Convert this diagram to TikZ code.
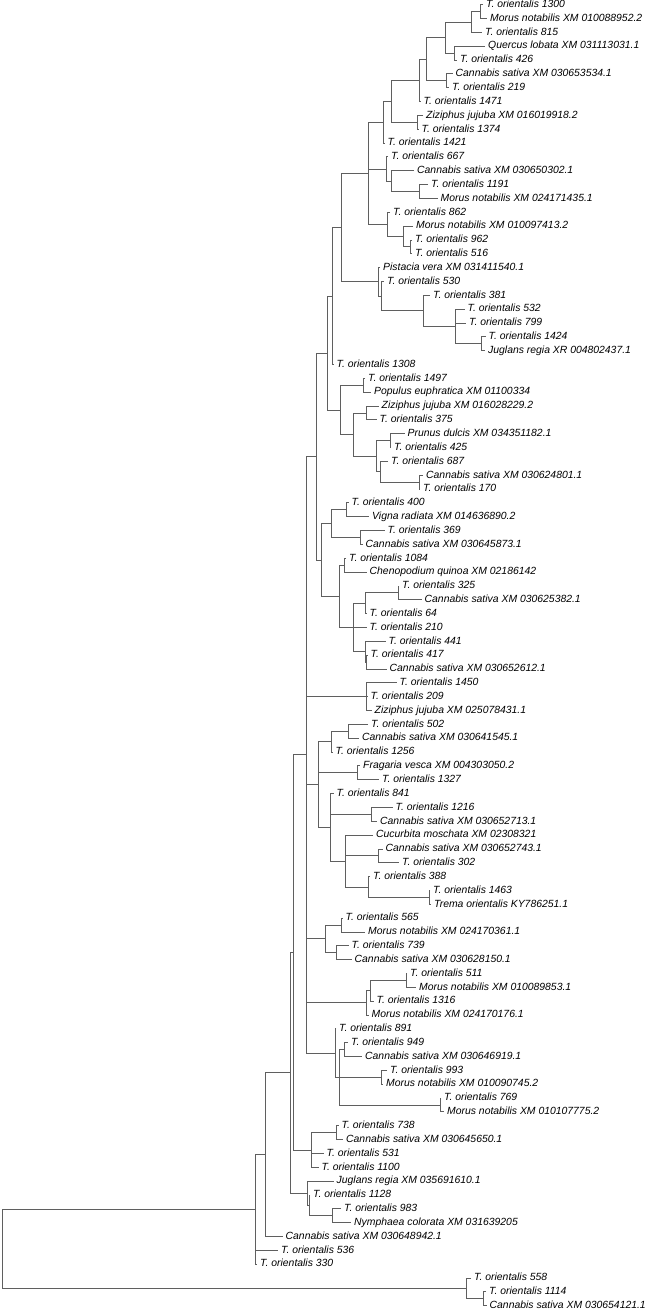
\documentclass[tikz,border=0pt]{standalone}
\usepackage{fontspec}
\setmainfont{Liberation Sans}
\usetikzlibrary{calc}
\definecolor{brc}{RGB}{95,95,95}
\tikzset{
  brl/.style={draw=brc, line width=0.9pt},
  lbl/.style={anchor=west, inner xsep=3pt, inner ysep=0pt, text height=7.5pt, text depth=2pt,
    font=\fontsize{10.4}{12}\selectfont\itshape, text=black}
}
\newcommand\lf[4]{\coordinate (#1) at (#2,{4.7+13.84*(#3-1)}); \node[lbl] (t#1) at (#1) {#4};}
\newcommand\nd[4]{%
  \path let \p1=($(#3)!.5!(#4)$) in (#2pt,\y1) coordinate (#1);
  \draw[brl] (#3) -- (#1 |- #3) -- (#1 |- #4) -- (#4);}
\newcommand\ndm[5]{%
  \nd{#1}{#2}{#3}{#4}%
  \foreach \cc in {#5} {\draw[brl] (#1 |- \cc) -- (\cc);}}
\begin{document}
\begin{tikzpicture}[x=1pt,y=-1pt]
\useasboundingbox (0,0) rectangle (648,1311);
\lf{l1}{483}{1}{T. orientalis 1300}
\lf{l2}{487}{2}{Morus notabilis XM 010088952.2}
\lf{l3}{482}{3}{T. orientalis 815}
\lf{l4}{485}{4}{Quercus lobata XM 031113031.1}
\lf{l5}{457}{5}{T. orientalis 426}
\lf{l6}{452.5}{6}{Cannabis sativa XM 030653534.1}
\lf{l7}{449}{7}{T. orientalis 219}
\lf{l8}{420.5}{8}{T. orientalis 1471}
\lf{l9}{423}{9}{Ziziphus jujuba XM 016019918.2}
\lf{l10}{418.5}{10}{T. orientalis 1374}
\lf{l11}{384.5}{11}{T. orientalis 1421}
\lf{l12}{388}{12}{T. orientalis 667}
\lf{l13}{414}{13}{Cannabis sativa XM 030650302.1}
\lf{l14}{428}{14}{T. orientalis 1191}
\lf{l15}{437.5}{15}{Morus notabilis XM 024171435.1}
\lf{l16}{390}{16}{T. orientalis 862}
\lf{l17}{413}{17}{Morus notabilis XM 010097413.2}
\lf{l18}{412}{18}{T. orientalis 962}
\lf{l19}{412}{19}{T. orientalis 516}
\lf{l20}{380}{20}{Pistacia vera XM 031411540.1}
\lf{l21}{384}{21}{T. orientalis 530}
\lf{l22}{430}{22}{T. orientalis 381}
\lf{l23}{464.5}{23}{T. orientalis 532}
\lf{l24}{466}{24}{T. orientalis 799}
\lf{l25}{485.5}{25}{T. orientalis 1424}
\lf{l26}{485}{26}{Juglans regia XR 004802437.1}
\lf{l27}{333.5}{27}{T. orientalis 1308}
\lf{l28}{365}{28}{T. orientalis 1497}
\lf{l29}{371}{29}{Populus euphratica XM 01100334}
\lf{l30}{378.5}{30}{Ziziphus jujuba XM 016028229.2}
\lf{l31}{376.5}{31}{T. orientalis 375}
\lf{l32}{404.5}{32}{Prunus dulcis XM 034351182.1}
\lf{l33}{391}{33}{T. orientalis 425}
\lf{l34}{388}{34}{T. orientalis 687}
\lf{l35}{423}{35}{Cannabis sativa XM 030624801.1}
\lf{l36}{420}{36}{T. orientalis 170}
\lf{l37}{348.5}{37}{T. orientalis 400}
\lf{l38}{369}{38}{Vigna radiata XM 014636890.2}
\lf{l39}{384.5}{39}{T. orientalis 369}
\lf{l40}{362.5}{40}{Cannabis sativa XM 030645873.1}
\lf{l41}{346}{41}{T. orientalis 1084}
\lf{l42}{366.5}{42}{Chenopodium quinoa XM 02186142}
\lf{l43}{399}{43}{T. orientalis 325}
\lf{l44}{421.5}{44}{Cannabis sativa XM 030625382.1}
\lf{l45}{366.5}{45}{T. orientalis 64}
\lf{l46}{366.5}{46}{T. orientalis 210}
\lf{l47}{385.5}{47}{T. orientalis 441}
\lf{l48}{367.5}{48}{T. orientalis 417}
\lf{l49}{386.5}{49}{Cannabis sativa XM 030652612.1}
\lf{l50}{396.5}{50}{T. orientalis 1450}
\lf{l51}{367.5}{51}{T. orientalis 209}
\lf{l52}{371.5}{52}{Ziziphus jujuba XM 025078431.1}
\lf{l53}{368}{53}{T. orientalis 502}
\lf{l54}{359}{54}{Cannabis sativa XM 030641545.1}
\lf{l55}{332.5}{55}{T. orientalis 1256}
\lf{l56}{360}{56}{Fragaria vesca XM 004303050.2}
\lf{l57}{379}{57}{T. orientalis 1327}
\lf{l58}{333.5}{58}{T. orientalis 841}
\lf{l59}{392.5}{59}{T. orientalis 1216}
\lf{l60}{377}{60}{Cannabis sativa XM 030652713.1}
\lf{l61}{373}{61}{Cucurbita moschata XM 02308321}
\lf{l62}{382.5}{62}{Cannabis sativa XM 030652743.1}
\lf{l63}{399}{63}{T. orientalis 302}
\lf{l64}{370}{64}{T. orientalis 388}
\lf{l65}{430}{65}{T. orientalis 1463}
\lf{l66}{431}{66}{Trema orientalis KY786251.1}
\lf{l67}{342.5}{67}{T. orientalis 565}
\lf{l68}{365}{68}{Morus notabilis XM 024170361.1}
\lf{l69}{348.5}{69}{T. orientalis 739}
\lf{l70}{351.5}{70}{Cannabis sativa XM 030628150.1}
\lf{l71}{407}{71}{T. orientalis 511}
\lf{l72}{416}{72}{Morus notabilis XM 010089853.1}
\lf{l73}{373.5}{73}{T. orientalis 1316}
\lf{l74}{368.5}{74}{Morus notabilis XM 024170176.1}
\lf{l75}{336}{75}{T. orientalis 891}
\lf{l76}{348}{76}{T. orientalis 949}
\lf{l77}{362}{77}{Cannabis sativa XM 030646919.1}
\lf{l78}{387}{78}{T. orientalis 993}
\lf{l79}{383}{79}{Morus notabilis XM 010090745.2}
\lf{l80}{441}{80}{T. orientalis 769}
\lf{l81}{444}{81}{Morus notabilis XM 010107775.2}
\lf{l82}{338.5}{82}{T. orientalis 738}
\lf{l83}{343}{83}{Cannabis sativa XM 030645650.1}
\lf{l84}{323.5}{84}{T. orientalis 531}
\lf{l85}{318.5}{85}{T. orientalis 1100}
\lf{l86}{333.5}{86}{Juglans regia XM 035691610.1}
\lf{l87}{310}{87}{T. orientalis 1128}
\lf{l88}{341}{88}{T. orientalis 983}
\lf{l89}{351}{89}{Nymphaea colorata XM 031639205}
\lf{l90}{282.5}{90}{Cannabis sativa XM 030648942.1}
\lf{l91}{278}{91}{T. orientalis 536}
\lf{l92}{257}{92}{T. orientalis 330}
\lf{l93}{471}{93}{T. orientalis 558}
\lf{l94}{486}{94}{T. orientalis 1114}
\lf{l95}{486.5}{95}{Cannabis sativa XM 030654121.1}
% internal nodes
\nd{A}{480}{l1}{l2}
\nd{B}{471.7}{A}{l3}
\nd{D}{454}{l4}{l5}
\nd{C}{445}{B}{D}
\nd{F}{446.7}{l6}{l7}
\nd{E}{426}{C}{F}
\nd{G}{419}{E}{l8}
\nd{I}{417.3}{l9}{l10}
\nd{H}{391.7}{G}{I}
\nd{M}{383.5}{H}{l11}
\nd{N3}{419.3}{l14}{l15}
\nd{N2}{391.7}{l13}{N3}
\nd{N1}{386}{l12}{N2}
\nd{N6}{410}{l18}{l19}
\nd{N5}{403}{l17}{N6}
\nd{N4}{387.3}{l16}{N5}
\ndm{J}{368.3}{M}{N4}{N1}
\nd{T}{481.7}{l25}{l26}
\ndm{S}{455}{l23}{T}{l24}
\nd{R}{423.3}{l22}{S}
\nd{Q2}{381.7}{l21}{R}
\nd{Q}{378.3}{l20}{Q2}
\nd{P}{341.7}{J}{Q}
\nd{U}{332.7}{P}{l27}
\nd{W1}{363.3}{l28}{l29}
\nd{W3}{366.7}{l30}{l31}
\nd{W5}{390}{l32}{l33}
\nd{W7}{419.3}{l35}{l36}
\nd{W6}{380.7}{l34}{W7}
\nd{W4}{376.7}{W5}{W6}
\nd{W2}{353.3}{W3}{W4}
\nd{W}{340}{W1}{W2}
\nd{V}{327.3}{U}{W}
\nd{Z1}{346.7}{l37}{l38}
\nd{Z2}{360}{l39}{l40}
\nd{Z}{331}{Z1}{Z2}
\nd{AA1}{344}{l41}{l42}
\nd{AA4}{398.3}{l43}{l44}
\nd{AB}{365}{AA4}{l45}
\nd{AA6}{366.7}{l48}{l49}
\nd{AA5}{365}{l47}{AA6}
\ndm{AA3}{353.3}{AB}{AA5}{l46}
\nd{AA2}{339.3}{AA1}{AA3}
\nd{Xp}{321.7}{Z}{AA2}
\nd{X}{316.7}{V}{Xp}
\ndm{AC}{366.7}{l50}{l52}{l51}
\nd{AD2}{348.3}{l53}{l54}
\nd{AD1}{331.7}{AD2}{l55}
\nd{AE}{357.3}{l56}{l57}
\nd{AF1}{371.7}{l59}{l60}
\nd{AF3}{378.3}{l62}{l63}
\nd{AF5}{429.3}{l65}{l66}
\nd{AF4}{368.3}{l64}{AF5}
\ndm{AF2}{345}{l61}{AF4}{AF3}
\ndm{AF}{330}{l58}{AF2}{AF1}
\ndm{AD}{318.3}{AD1}{AF}{AE}
\nd{AG1}{341.7}{l67}{l68}
\nd{AG2}{336}{l69}{l70}
\nd{AG}{325}{AG1}{AG2}
\nd{AH1}{406}{l71}{l72}
\nd{AH2}{370.7}{AH1}{l73}
\nd{AH}{366.7}{AH2}{l74}
\nd{AI1}{344}{l76}{l77}
\nd{AI2}{381.7}{l78}{l79}
\nd{AI3}{440}{l80}{l81}
\ndm{AIX}{339.3}{AI1}{AI3}{AI2}
\nd{AI}{335}{l75}{AIX}
\ndm{R6}{306}{X}{AI}{AC,AD,AG,AH}
\nd{R7a}{336}{l82}{l83}
\ndm{R7}{311.7}{R7a}{l85}{l84}
\nd{R4}{293.3}{R6}{R7}
\nd{R5b}{332.7}{l88}{l89}
\nd{R5c}{309.3}{l87}{R5b}
\nd{R5}{307.3}{l86}{R5c}
\nd{R3}{290.7}{R4}{R5}
\nd{R2}{265.7}{R3}{l90}
\ndm{R1}{255}{R2}{l92}{l91}
\nd{X2}{483.3}{l94}{l95}
\nd{X1}{466.7}{l93}{X2}
\nd{root}{2}{R1}{X1}
\end{tikzpicture}
\end{document}
